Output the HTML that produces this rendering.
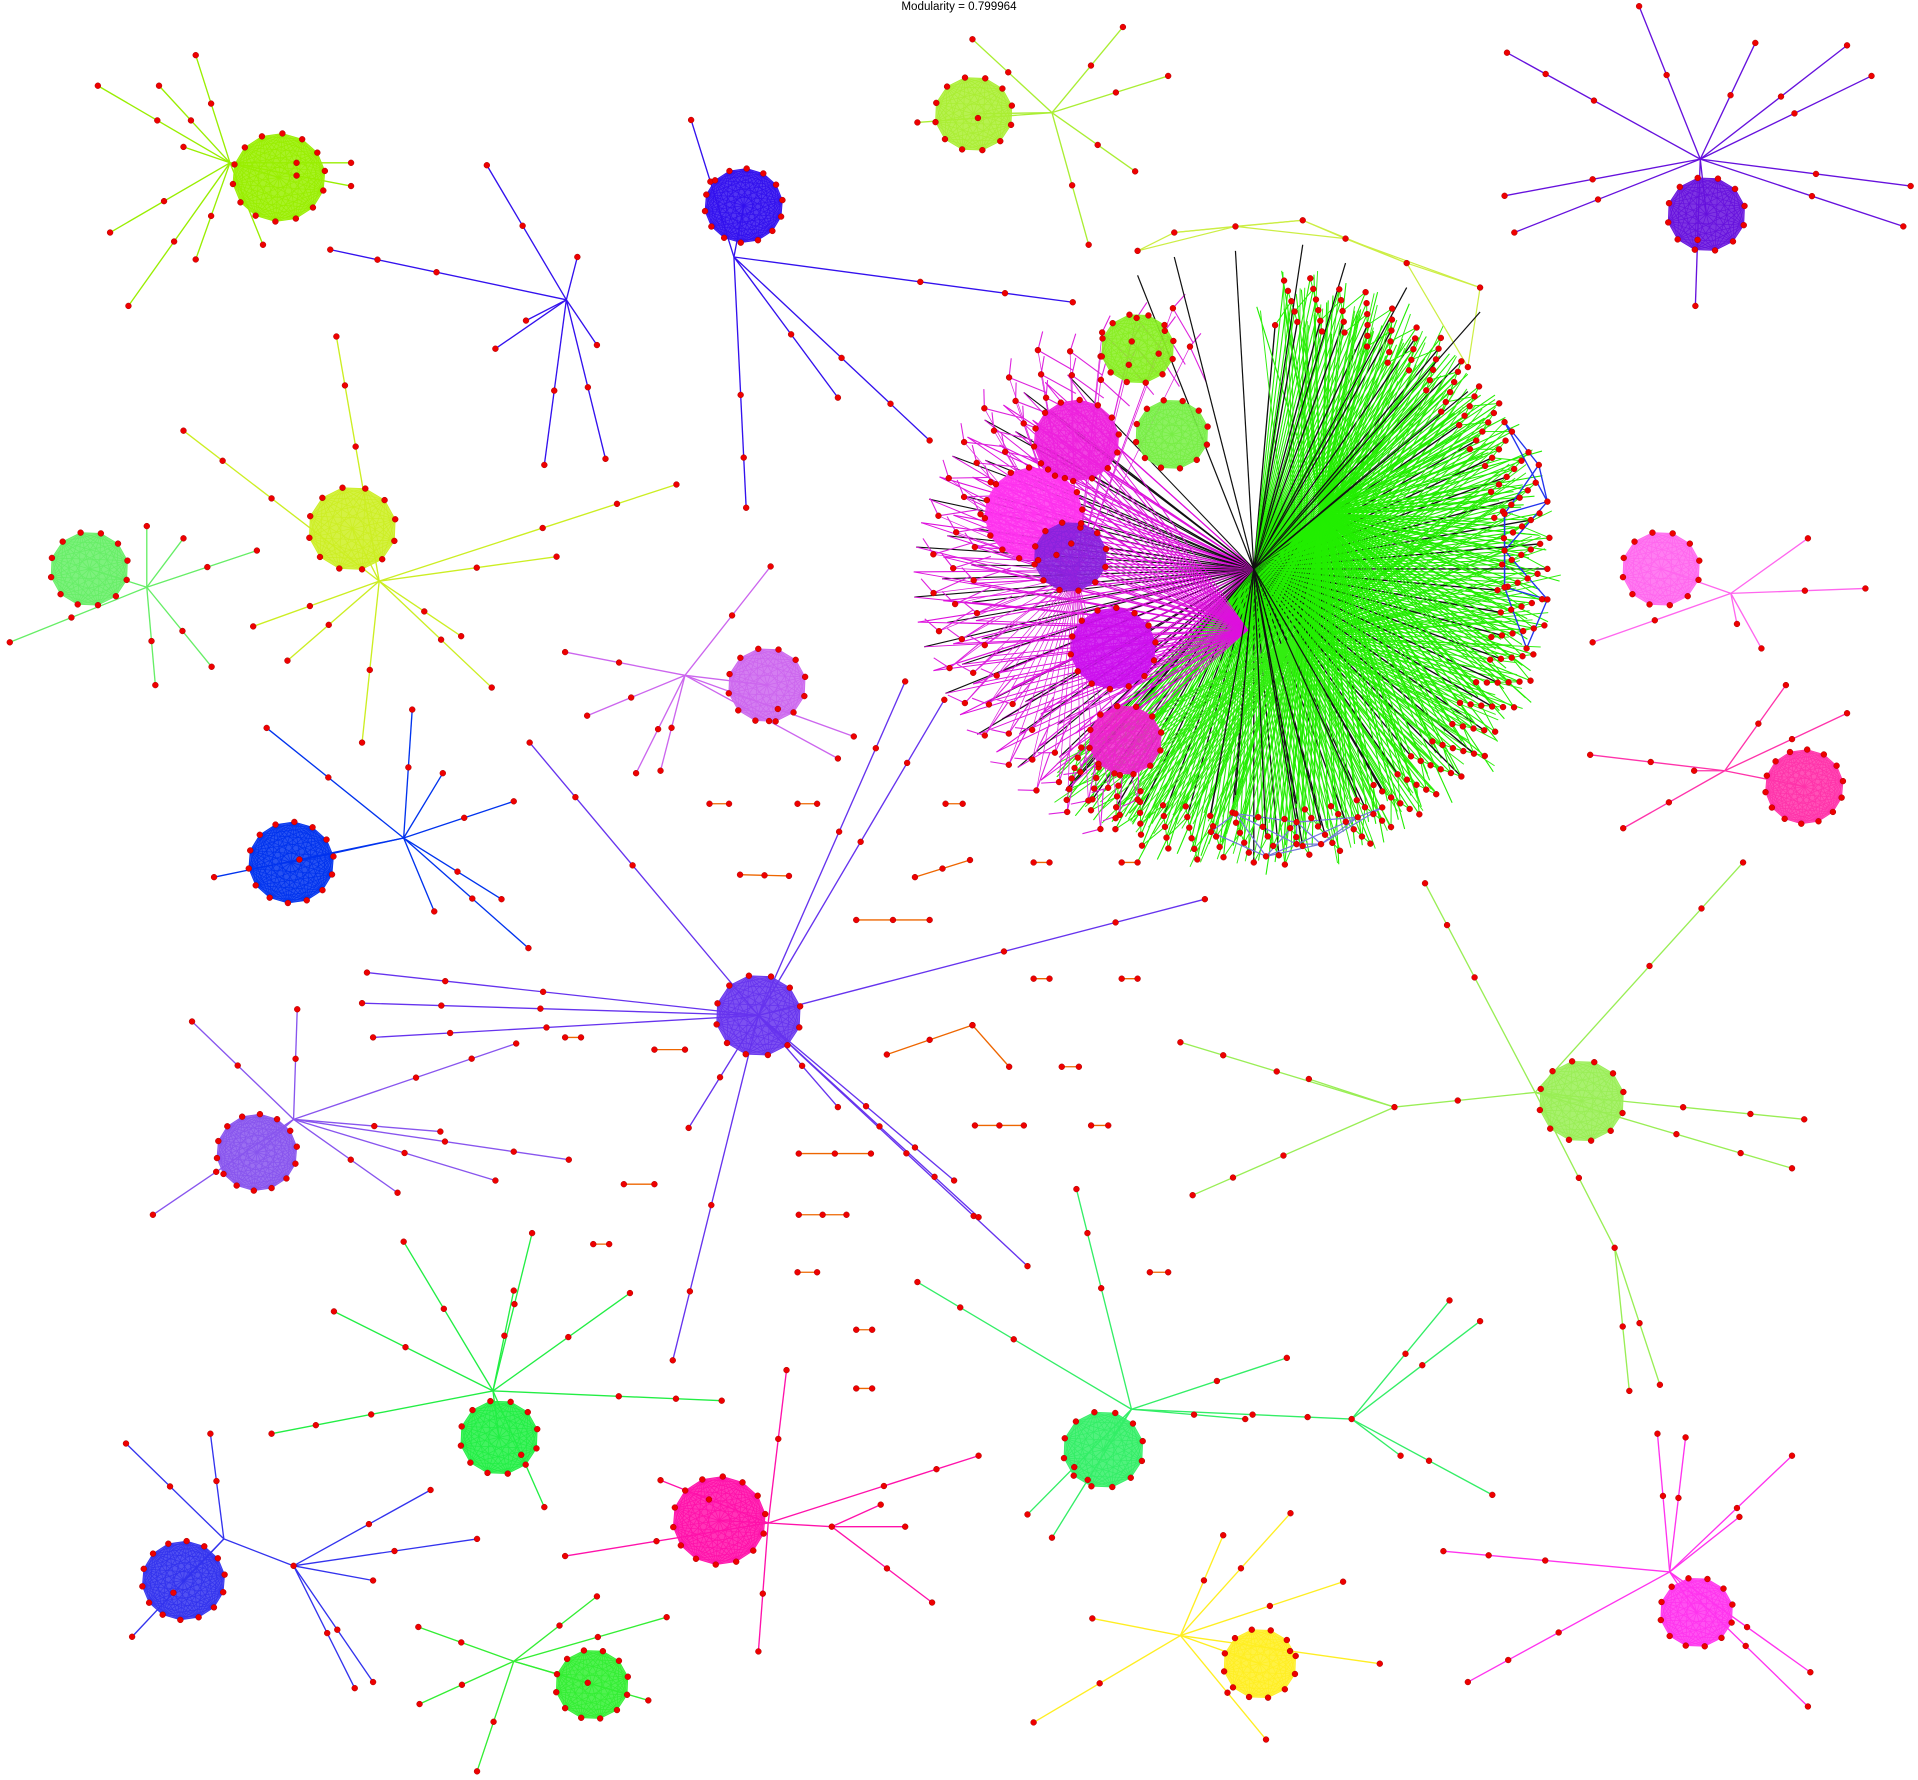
<!DOCTYPE html>
<html><head><meta charset="utf-8"><style>
html,body{margin:0;padding:0;background:#fff;}
svg{display:block;}
text{font-family:"Liberation Sans",sans-serif;}
</style></head><body>
<svg id="g" width="1918" height="1780" viewBox="0 0 1568 1455" xmlns="http://www.w3.org/2000/svg">
<text x="784" y="8" font-size="9.5" text-anchor="middle" fill="#000">Modularity = 0.799964</text>
<g id="edges"></g><g id="blobs"></g><g id="nodes"></g>
</svg>
<script>
// community blobs: [cx, cy, radius, color, nodeCount]
const blobs = [
 [228,145,38,"#99ee00",14],[608,168,32,"#3311ee",14],[796,93,32,"#aaee33",12],[1395,175,32,"#6611dd",12],
 [288,432,36,"#ccee22",12],[73,465,32,"#66ee66",12],[627,560,32,"#cc66ee",12],[238,705,35,"#0033ee",14],
 [620,830,35,"#6633ee",12],[210,942,33,"#8855ee",14],[1293,900,35,"#99ee55",12],[1358,465,32,"#ff66ee",12],
 [1475,643,32,"#ff33aa",14],[408,1175,32,"#22ee44",12],[902,1185,33,"#33ee66",12],[150,1292,34,"#3333ee",14],
 [588,1243,38,"#ff11aa",14],[484,1377,30,"#33ee33",12],[1030,1360,30,"#ffee22",12],[1387,1318,30,"#ff33ee",12],
 [845,420,40,"#ff33ee",16],[880,360,35,"#ee22dd",14],[910,530,35,"#cc11ee",14],[875,455,30,"#8822dd",12],
 [920,605,30,"#ee22cc",12],[930,285,30,"#88ee22",12],[958,355,30,"#77ee44",12]
];
const starHubs = [[188,133],[600,210],[463,245],[860,92],[1390,130],[310,475],[120,480],[560,552],[330,685],[620,830],[240,915],[1255,893],[1140,905],[1320,1020],[1415,485],[1410,630],[403,1137],[925,1152],[1105,1160],[183,1258],[240,1280],[628,1245],[680,1248],[420,1358],[965,1337],[1365,1285]];
const starColors = ["#99ee00","#3311ee","#3311ee","#aaee33","#6611dd","#ccee22","#66ee66","#cc66ee","#0033ee","#6633ee","#8855ee","#99ee55","#99ee55","#99ee55","#ff66ee","#ff33aa","#22ee44","#33ee66","#33ee66","#3333ee","#3333ee","#ff11aa","#ff11aa","#33ee33","#ffee22","#ff33ee"];
const starParent = [0,1,"x",2,3,4,5,6,7,8,9,10,"x","x",11,12,13,14,"x",15,"x",16,"x",17,18,19];
const starLeaves = [
 [[150,120],[80,70],[130,70],[160,45],[90,190],[105,250],[160,212],[215,200],[287,133],[287,152]],
 [[877,247],[610,415],[760,360],[685,325],[565,98]],
 [[270,204],[398,135],[405,285],[445,380],[495,375],[488,282],[472,210],[430,262]],
 [[918,22],[955,62],[928,140],[890,200],[795,32],[750,100]],
 [[1232,43],[1340,5],[1435,35],[1510,37],[1530,62],[1562,152],[1556,185],[1238,190],[1230,160],[1386,250]],
 [[275,275],[150,352],[553,396],[455,455],[207,512],[235,540],[296,607],[402,562],[377,520]],
 [[8,525],[210,450],[150,440],[173,545],[127,560],[120,430]],
 [[462,533],[480,585],[630,463],[520,632],[685,620],[698,602],[540,630]],
 [[218,595],[175,717],[337,580],[420,655],[432,775],[355,745],[410,735],[362,632]],
 [[433,607],[740,557],[772,572],[985,735],[840,1035],[550,1112],[563,922],[296,820],[305,848],[300,795],[685,905],[780,965],[800,995]],
 [[157,835],[243,825],[422,853],[465,948],[125,993],[325,975],[405,965],[360,925]],
 [[1425,705],[1165,722],[1475,915],[1465,955],[1140,905],[1320,1020]],
 [[965,852],[975,977],[1070,882]],
 [[1332,1137],[1357,1132]],
 [[1525,481],[1478,440],[1302,525],[1440,530],[1420,510]],
 [[1300,617],[1327,677],[1510,583],[1460,560],[1385,630]],
 [[273,1072],[222,1172],[330,1015],[435,1008],[515,1057],[590,1145],[445,1232],[420,1055]],
 [[750,1048],[880,972],[1018,1160],[1052,1110],[1105,1160],[840,1238],[860,1257]],
 [[1185,1063],[1210,1080],[1220,1222],[1145,1190]],
 [[103,1180],[172,1172],[108,1338],[240,1280]],
 [[305,1375],[352,1218],[390,1258],[305,1292],[290,1380]],
 [[643,1120],[620,1350],[800,1190],[680,1248],[462,1272],[540,1210]],
 [[762,1310],[740,1248],[720,1230]],
 [[343,1393],[342,1330],[390,1448],[545,1322],[488,1305],[530,1390]],
 [[845,1408],[893,1323],[1055,1237],[1098,1293],[1128,1360],[1035,1422],[1000,1255]],
 [[1180,1268],[1200,1375],[1465,1190],[1355,1172],[1378,1175],[1478,1395],[1422,1240],[1480,1367]]
];
const pairs = [[580,657,596,657],[652,657,668,657],[773,657,787,657],[605,715,645,716],[748,717,793,703],[700,752,760,752],[845,705,858,705],[917,705,930,705],[845,800,858,800],[917,800,930,800],[462,848,475,848],[535,858,560,858],[725,862,795,838],[795,838,825,872],[868,872,882,872],[797,920,837,920],[892,920,906,920],[653,943,712,943],[510,968,535,968],[653,993,692,993],[485,1017,498,1017],[652,1040,668,1040],[940,1040,955,1040],[700,1087,713,1087],[700,1135,713,1135]];
const hairAngles = [];
for (let i=0;i<220;i++){ hairAngles.push(-85 + i*1.0); }
const hairRadius = [];
for (let i=0;i<220;i++){ hairRadius.push(200 + ((i*37)%45)); }

const NS="http://www.w3.org/2000/svg";
const E=document.getElementById('edges'),B=document.getElementById('blobs'),N=document.getElementById('nodes');
function line(p,x1,y1,x2,y2,c,w){const l=document.createElementNS(NS,'line');l.setAttribute('x1',x1);l.setAttribute('y1',y1);l.setAttribute('x2',x2);l.setAttribute('y2',y2);l.setAttribute('stroke',c);l.setAttribute('stroke-width',w||1);


p.appendChild(l);}
function node(x,y){const c=document.createElementNS(NS,'circle');c.setAttribute('cx',x);c.setAttribute('cy',y);c.setAttribute('r',2.4);c.setAttribute('fill','#ee0000');c.setAttribute('stroke','#aa0000');c.setAttribute('stroke-width',0.4);


N.appendChild(c);}

// hairball
const hx=1025,hy=465;
const rim=[];
hairAngles.forEach((a,i)=>{
  const r=hairRadius[i], t=a*Math.PI/180;
  const x=hx+r*Math.cos(t), y=hy+r*Math.sin(t);
  rim.push([x,y]);
  const black = i%5===0;
  line(E,hx,hy,x,y,black?"#111":"#22ee00",black?1.1:0.9);
  line(E,1080,420,x+((i*13)%30)-15,y+((i*7)%30)-15,"#22ee00",0.9);
  line(E,1060,520,x+((i*11)%24)-12,y+((i*5)%24)-12,"#33ee11",0.8);
  node(x,y);
});
for(let i=0;i<rim.length-3;i+=2){line(E,rim[i][0],rim[i][1],rim[i+3][0],rim[i+3][1],"#22ee00",0.8);}
for(let i=0;i<70;i++){const t=(100+i*2.2)*Math.PI/180,r=120+((i*23)%70);const x=hx-100+r*Math.cos(t),y=hy+r*Math.sin(t);
 line(E,hx,hy,x,y,i%2?"#111":"#dd11dd",0.9);line(E,1020,515,x,y,"#dd11dd",0.8);}
for(let i=0;i<60;i++){const t=(110+i*2.6)*Math.PI/180,r=190+((i*17)%50);const x=hx-30+r*Math.cos(t),y=hy+10+r*Math.sin(t);
 line(E,x,y,hx-30+(r-30)*Math.cos(t+0.06),hy+10+(r-30)*Math.sin(t+0.06),"#dd22dd",0.9);
 line(E,x,y,hx-30+(r+10)*Math.cos(t+0.05),hy+10+(r+10)*Math.sin(t+0.05),"#dd22dd",0.9);
 line(E,x,y,880,470,"#dd22dd",0.6);node(x,y);}
const topArc=[[930,205],[960,190],[1010,185],[1065,180],[1100,195],[1150,215],[1210,235],[1200,300]];
for(let i=0;i<topArc.length;i++)for(let j=i+1;j<Math.min(i+3,topArc.length);j++)line(E,topArc[i][0],topArc[i][1],topArc[j][0],topArc[j][1],"#ccee44",1);
topArc.forEach(p=>{line(E,hx,hy,p[0],p[1]+20,"#111",1);node(p[0],p[1]);});
const blueR=[[1230,345],[1258,380],[1265,410],[1230,420],[1230,450],[1265,490],[1248,530],[1230,480]];
for(let i=0;i<blueR.length;i++)for(let j=i+1;j<blueR.length;j++)if(Math.abs(blueR[i][1]-blueR[j][1])<70)line(E,blueR[i][0],blueR[i][1],blueR[j][0],blueR[j][1],"#2233ee",1.1);
blueR.forEach(p=>node(p[0],p[1]));
const botR=[[990,680],[1010,665],[1035,700],[1060,672],[1080,690],[1110,668],[1130,660],[1060,690]];
for(let i=0;i<botR.length;i++)for(let j=i+1;j<botR.length;j++)if(Math.abs(botR[i][0]-botR[j][0])<60)line(E,botR[i][0],botR[i][1],botR[j][0],botR[j][1],"#7777dd",1);
botR.forEach(p=>{line(E,hx,hy,p[0],p[1]-15,"#111",1);node(p[0],p[1]);});

// stars
starHubs.forEach((h,i)=>{
  const c=starColors[i]; const par=starParent[i];
  if(typeof par==="number"){const b=blobs[par];line(E,h[0],h[1],b[0],b[1],c,1.1);}
  starLeaves[i].forEach(l=>{
    line(E,h[0],h[1],l[0],l[1],c,1.1);
    node(l[0],l[1]);
    const d=Math.hypot(l[0]-h[0],l[1]-h[1]);
    if(d>80){node(h[0]+(l[0]-h[0])*0.55,h[1]+(l[1]-h[1])*0.55);}
    if(d>180){node(h[0]+(l[0]-h[0])*0.8,h[1]+(l[1]-h[1])*0.8);}
  });
});
pairs.forEach(p=>{line(E,p[0],p[1],p[2],p[3],"#ee6600",1.1);node(p[0],p[1]);node(p[2],p[3]);
 if(Math.abs(p[2]-p[0])>35){node((p[0]+p[2])/2,(p[1]+p[3])/2);}});

// blobs
blobs.forEach(b=>{
  const [cx,cy,r,c,n]=b; const pts=[];
  for(let k=0;k<n;k++){const t=k/n*Math.PI*2+0.3;pts.push([cx+r*Math.cos(t),cy+r*0.95*Math.sin(t)]);}
  const poly=document.createElementNS(NS,'polygon');
  poly.setAttribute('points',pts.map(p=>p.join(',')).join(' '));
  poly.setAttribute('fill',c);poly.setAttribute('fill-opacity',0.85);
  
  
  B.appendChild(poly);
  for(let a=0;a<n;a++)for(let d=a+1;d<n;d++)line(B,pts[a][0],pts[a][1],pts[d][0],pts[d][1],c,0.6);
  pts.forEach(p=>node(p[0],p[1]));
});
</script>
</body></html>
